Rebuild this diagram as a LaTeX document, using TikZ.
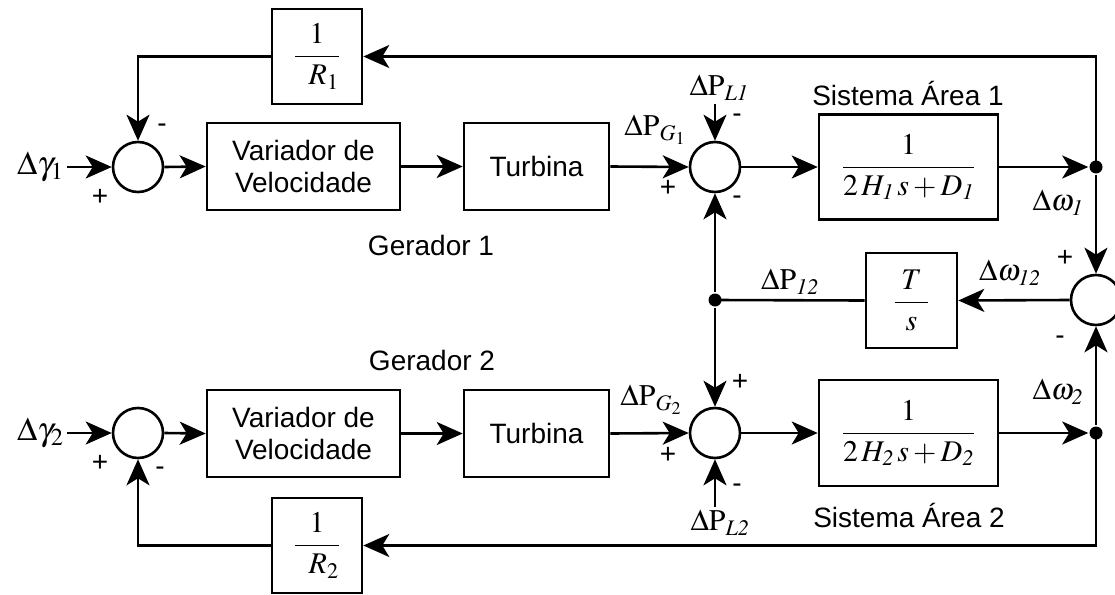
\documentclass[tikz,border=0pt]{standalone}
\usepackage{amsmath}
\usepackage{mathptmx}
\usepackage[no-math]{fontspec}
\setmainfont{Liberation Sans}
\usepackage{tikz}
\usetikzlibrary{arrows.meta,positioning,calc}
\tikzset{
  blk/.style    ={draw,align=center,inner sep=0pt},
  sumnode/.style={draw,circle,minimum size=50pt,inner sep=0pt},
  dotnode/.style={fill,circle,minimum size=13pt,inner sep=0pt},
  lbl/.style    ={inner sep=2pt},
  sgn/.style    ={inner sep=0pt},
  flow/.style   ={-{Stealth[length=26pt,width=23pt,inset=7pt]}},
}
\newcommand{\frcsize}{\fontsize{30}{34}\selectfont}
\newcommand{\lblsize}{\fontsize{30}{34}\selectfont}

\begin{document}
\begin{tikzpicture}[x=1pt,y=-1pt,line width=2.6pt,font=\fontsize{28}{32}\selectfont]
\useasboundingbox (0,0) rectangle (1115,594);
% area 1
\node[sumnode] (sumA1) at (138,167) {};
\node[lbl,anchor=east] (gam1) at (67,167) {\fontsize{33}{36}\selectfont$\Delta\gamma_1$};
\node[blk,minimum width=193pt,minimum height=87pt] (var1) at (303.5,166.5) {Variador de\\Velocidade};
\node[blk,minimum width=145pt,minimum height=87pt] (tur1) at (536.5,166.5) {Turbina};
\node[sumnode] (sumB1) at (715,167) {};
\node[blk,minimum width=179pt,minimum height=105pt] (sys1) at (908.5,167) {\frcsize$\dfrac{1}{2\,H_{\mathit{1}}\,s+D_{\mathit{1}}}$};
\node[dotnode] (dot1) at (1096,167) {};
\node[blk,minimum width=90pt,minimum height=95pt] (R1) at (317,56.5) {\frcsize$\dfrac{1}{\;\;R_1}$};
\node[lbl] (pl1) at (719,88) {\lblsize$\Delta\mathrm{P}_{\mathit{L1}}$};
\node[lbl] (pg1) at (655,130) {\lblsize$\Delta\mathrm{P}_{G_1}$};
\node[lbl] (w1) at (1058,203) {\lblsize$\Delta\omega_{\mathit{1}}$};
\node (sa1) at (908,93) {Sistema Área 1};
\node (ger1) at (431,245) {Gerador 1};

% tie line
\node[sumnode] (sumW) at (1096,300) {};
\node[blk,minimum width=91pt,minimum height=95pt] (Ts) at (911.5,300.5) {\frcsize$\dfrac{\;T\;}{s}$};
\node[dotnode] (dotP) at (715,300) {};
\node[lbl] (p12) at (790,282) {\lblsize$\Delta\mathrm{P}_{\mathit{12}}$};
\node[lbl] (w12) at (1010,273) {\lblsize$\Delta\omega_{\mathit{12}}$};

% area 2
\node[sumnode] (sumA2) at (138,433) {};
\node[lbl,anchor=east] (gam2) at (67,433) {\fontsize{33}{36}\selectfont$\Delta\gamma_2$};
\node[blk,minimum width=193pt,minimum height=87pt] (var2) at (303.5,433.5) {Variador de\\Velocidade};
\node[blk,minimum width=145pt,minimum height=87pt] (tur2) at (536.5,433.5) {Turbina};
\node[sumnode] (sumB2) at (715,433) {};
\node[blk,minimum width=179pt,minimum height=106pt] (sys2) at (908.5,433) {\frcsize$\dfrac{1}{2\,H_{\mathit{2}}\,s+D_{\mathit{2}}}$};
\node[dotnode] (dot2) at (1096,433) {};
\node[blk,minimum width=90pt,minimum height=95pt] (R2) at (317,545.5) {\frcsize$\dfrac{1}{\;\;R_2}$};
\node[lbl] (pl2) at (720,523) {\lblsize$\Delta\mathrm{P}_{\mathit{L2}}$};
\node[lbl] (pg2) at (651,400) {\lblsize$\Delta\mathrm{P}_{G_2}$};
\node[lbl] (w2) at (1058,392) {\lblsize$\Delta\omega_{\mathit{2}}$};
\node (sa2) at (909,515) {Sistema Área 2};
\node (ger2) at (432,360) {Gerador 2};

% signs
\node[sgn] (s1) at (162,128) {-};
\node[sgn] (s2) at (100,197) {+};
\node[sgn] (s3) at (668,188) {+};
\node[sgn] (s4) at (737,118) {-};
\node[sgn] (s5) at (737,200) {-};
\node[sgn] (s6) at (1065,258) {+};
\node[sgn] (s7) at (1060,340) {-};
\node[sgn] (s8) at (740,382) {+};
\node[sgn] (s9) at (668,455) {+};
\node[sgn] (s10) at (737,488) {-};
\node[sgn] (s11) at (100,463) {+};
\node[sgn] (s12) at (160,471) {-};

% connectors, area 1
\draw[flow] (gam1.east) -- (sumA1.west);
\draw[flow] (sumA1.east) -- (var1.west);
\draw[flow] (var1.east) -- (tur1.west);
\draw[flow] (tur1.east) -- (sumB1.west);
\draw[flow] (sumB1.east) -- (sys1.west);
\draw[flow] (sys1.east) -- (dot1);
\draw[flow] (dot1.center) |- (R1.east);
\draw[flow] (R1.west) -| (sumA1.north);
\draw[flow] (pl1.south -| sumB1.north) -- (sumB1.north);

% connectors, tie line
\draw[flow] (dot1) -- (sumW.north);
\draw[flow] (dot2) -- (sumW.south);
\draw[flow] (sumW.west) -- (Ts.east);
\draw (Ts.west) -- (dotP.center);
\draw[flow] (dotP) -- (sumB1.south);
\draw[flow] (dotP) -- (sumB2.north);

% connectors, area 2
\draw[flow] (gam2.east) -- (sumA2.west);
\draw[flow] (sumA2.east) -- (var2.west);
\draw[flow] (var2.east) -- (tur2.west);
\draw[flow] (tur2.east) -- (sumB2.west);
\draw[flow] (sumB2.east) -- (sys2.west);
\draw[flow] (sys2.east) -- (dot2);
\draw[flow] (dot2.center) |- (R2.east);
\draw[flow] (R2.west) -| (sumA2.south);
\draw[flow] (pl2.north -| sumB2.south) -- (sumB2.south);
\end{tikzpicture}
\end{document}
